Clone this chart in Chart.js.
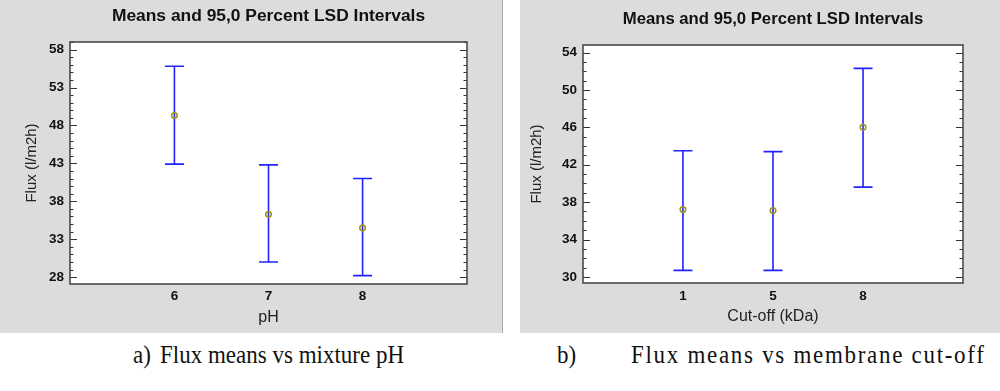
<!DOCTYPE html>
<html>
<head>
<meta charset="utf-8">
<script src="https://cdn.jsdelivr.net/npm/chart.js@4.4.1/dist/chart.umd.min.js"></script>
<style>
  body { margin: 0; background: #fff; width: 1000px; height: 391px; overflow: hidden; position: relative; }
  .panel { position: absolute; top: 0; height: 333px; background: #dcdcdc; }
  .panel canvas { position: absolute; left: 0; top: 0; z-index: 1; }
  .plotbg { position: absolute; background: #ffffff; z-index: 0; }
  #panelA { left: 0; width: 502px; border-right: 1px solid #a8a8a8; }
  #panelB { left: 520px; width: 480px; }
  .cap { position: absolute; top: 341px; font-family: "Liberation Serif", "Times New Roman", serif; font-size: 23px; color: #111; white-space: nowrap; transform: scaleY(1.12); transform-origin: top left; }
</style>
</head>
<body>
<div class="panel" id="panelA"><div class="plotbg" id="bgA"></div><canvas id="chartA" width="502" height="333"></canvas></div>
<div class="panel" id="panelB"><div class="plotbg" id="bgB"></div><canvas id="chartB" width="480" height="333"></canvas></div>
<div class="cap" style="left:133px">a)</div>
<div class="cap" style="left:160px">Flux means vs mixture pH</div>
<div class="cap" style="left:557px">b)</div>
<div class="cap" style="left:631px; letter-spacing:1.7px">Flux means vs membrane cut-off</div>
<script>
// a) pH
const phCats = ["6", "7", "8"];
const phMeans = [49.3, 36.3, 34.5];
const phUpper = [55.8, 42.8, 41.0];
const phLower = [42.9, 30.0, 28.2];
const phTicks = [28, 33, 38, 43, 48, 53, 58];

// b) cut-off
const cutCats = ["1", "5", "8"];
const cutMeans = [37.2, 37.1, 46.0];
const cutUpper = [43.5, 43.4, 52.3];
const cutLower = [30.7, 30.7, 39.6];
const cutTicks = [30, 34, 38, 42, 46, 50, 54];

const FONT = "'Liberation Sans', Arial, sans-serif";

// blue LSD interval bars, drawn under the mean markers
const intervalPlugin = {
  id: "intervals",
  beforeDatasetsDraw(chart, args, opts) {
    const ctx = chart.ctx;
    const x = chart.scales.x, y = chart.scales.y;
    ctx.save();
    ctx.strokeStyle = "#2222ff";
    ctx.lineWidth = 1.6;
    opts.upper.forEach((hi, i) => {
      const px = x.getPixelForValue(i + 1);
      const top = y.getPixelForValue(hi);
      const bot = y.getPixelForValue(opts.lower[i]);
      ctx.beginPath();
      ctx.moveTo(px, top); ctx.lineTo(px, bot);
      ctx.moveTo(px - 9.5, top); ctx.lineTo(px + 9.5, top);
      ctx.moveTo(px - 9.5, bot); ctx.lineTo(px + 9.5, bot);
      ctx.stroke();
    });
    ctx.restore();
  },
};

// frame + inward ticks (major and minor) on both vertical sides
const framePlugin = {
  id: "frame",
  afterDraw(chart, args, opts) {
    const ctx = chart.ctx, a = chart.chartArea, y = chart.scales.y;
    ctx.save();
    ctx.strokeStyle = "#333";
    ctx.lineWidth = 1;
    for (let v = Math.ceil(y.min); v <= y.max; v++) {
      const py = Math.round(y.getPixelForValue(v)) + 0.5;
      const len = opts.major.includes(v) ? 7 : 3.5;
      ctx.beginPath();
      ctx.moveTo(a.left, py); ctx.lineTo(a.left + len, py);
      ctx.moveTo(a.right, py); ctx.lineTo(a.right - len, py);
      ctx.stroke();
    }
    ctx.strokeStyle = "#4a4a4a";
    ctx.lineWidth = 1.6;
    ctx.strokeRect(a.left, a.top, a.right - a.left, a.bottom - a.top);
    ctx.restore();
  },
};

function makeChart(id, bgId, s) {
  const ctx = document.getElementById(id).getContext("2d");
  const chart = new Chart(ctx, {
    type: "scatter",
    data: {
      datasets: [
        {
          data: s.means.map((m, i) => ({ x: i + 1, y: m })),
          pointStyle: "circle",
          pointRadius: 2.8,
          pointBorderWidth: 1.5,
          pointBorderColor: "#9c9410",
          pointBackgroundColor: "rgba(0,0,0,0)",
        },
      ],
    },
    options: {
      responsive: false,
      devicePixelRatio: 1,
      animation: false,
      layout: { padding: { left: 0, right: s.padRight, top: 0, bottom: 0 } },
      scales: {
        x: {
          type: "linear",
          min: -0.11,
          max: 4.11,
          grid: { display: false, drawTicks: false },
          border: { display: false },
          afterBuildTicks: (sc) => { sc.ticks = s.cats.map((c, i) => ({ value: i + 1 })); },
          afterFit: (sc) => { sc.height = s.xHeight; },
          ticks: {
            padding: s.xTickPad,
            color: "#111",
            font: { family: FONT, size: 13.5, weight: "bold" },
            callback: (v) => s.cats[v - 1],
          },
          title: {
            display: true,
            text: s.xTitle,
            color: "#222",
            font: { family: FONT, size: 16 },
            padding: { top: 0, bottom: s.xTitlePad },
          },
        },
        y: {
          min: s.yMin,
          max: s.yMax,
          grid: { display: false, drawTicks: false },
          border: { display: false },
          afterBuildTicks: (sc) => { sc.ticks = s.ticks.map((v) => ({ value: v })); },
          afterFit: (sc) => { sc.width = s.yWidth; },
          ticks: {
            padding: s.yTickPad,
            color: "#111",
            font: { family: FONT, size: 13.5, weight: "bold" },
          },
          title: {
            display: true,
            text: "Flux (l/m2h)",
            color: "#222",
            font: { family: FONT, size: 15 },
            padding: { top: s.yTitlePad, bottom: 0 },
          },
        },
      },
      plugins: {
        legend: { display: false },
        tooltip: { enabled: false },
        title: {
          display: true,
          fullSize: false,
          text: "Means and 95,0 Percent LSD Intervals",
          color: "#111",
          font: { family: FONT, size: s.titleSize, weight: "bold", lineHeight: 1.2 },
          padding: { top: s.titleTop, bottom: s.titleBottom },
        },
        intervals: { upper: s.upper, lower: s.lower },
        frame: { major: s.ticks },
      },
    },
    plugins: [intervalPlugin, framePlugin],
  });

  // white plotting area behind the (transparent) canvas, placed from the chart's own layout
  const a = chart.chartArea, bg = document.getElementById(bgId);
  bg.style.left = a.left + "px";
  bg.style.top = a.top + "px";
  bg.style.width = (a.right - a.left) + "px";
  bg.style.height = (a.bottom - a.top) + "px";
  return chart;
}

makeChart("chartA", "bgA", {
  cats: phCats, means: phMeans, upper: phUpper, lower: phLower, ticks: phTicks,
  yMin: 27.1, yMax: 59.0, xTitle: "pH",
  padRight: 35, yWidth: 70, xHeight: 49, xTickPad: 4.5, xTitlePad: 5.5,
  yTickPad: 6, yTitlePad: 22.5,
  titleSize: 17.4, titleTop: 5.8, titleBottom: 15.3,
});

makeChart("chartB", "bgB", {
  cats: cutCats, means: cutMeans, upper: cutUpper, lower: cutLower, ticks: cutTicks,
  yMin: 29.35, yMax: 54.8, xTitle: "Cut-off (kDa)",
  padRight: 37, yWidth: 63, xHeight: 50, xTickPad: 5, xTitlePad: 6.5,
  yTickPad: 6, yTitlePad: 8,
  titleSize: 16.7, titleTop: 9.7, titleBottom: 15.3,
});
</script>
</body>
</html>
